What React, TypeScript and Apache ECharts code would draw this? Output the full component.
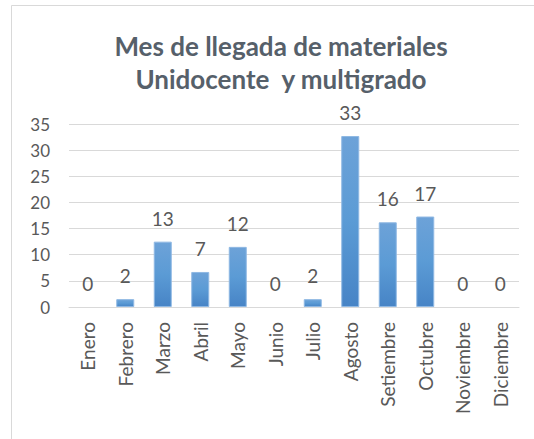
import React, { useEffect, useRef } from "react";
import * as echarts from "echarts";

const months = ["Enero", "Febrero", "Marzo", "Abril", "Mayo", "Junio", "Julio", "Agosto", "Setiembre", "Octubre", "Noviembre", "Diciembre"];
const values = [0, 1.5, 12.5, 6.7, 11.5, 0, 1.5, 32.7, 16.2, 17.3, 0, 0];
const titleLines = ["Mes de llegada de materiales", "Unidocente  y multigrado"];
const yTicks = { min: 0, max: 35, interval: 5 };

const FONT = "Lato, 'Noto Sans', sans-serif";
const GRAY = "#595959";

export default function App() {
  const ref = useRef<HTMLDivElement>(null);
  useEffect(() => {
    if (!ref.current) return;
    const chart = echarts.init(ref.current, undefined, { renderer: "svg" });
    chart.setOption({
      animation: false,
      backgroundColor: "#ffffff",
      textStyle: { fontFamily: FONT },
      title: {
        text: titleLines.join("\n"),
        left: 276,
        top: 24,
        textAlign: "center",
        textStyle: { fontFamily: FONT, fontSize: 26, fontWeight: "bold", color: "#56606a", lineHeight: 33 },
      },
      graphic: [
        {
          type: "rect",
          shape: { x: 11.5, y: 5.5, width: 700, height: 700 },
          style: { fill: "none", stroke: "#d9d9d9", lineWidth: 1 },
          silent: true,
        },
      ],
      grid: { left: 69, right: 15, top: 124, bottom: 132, containLabel: false },
      xAxis: {
        type: "category",
        data: months,
        axisLine: { show: true, lineStyle: { color: "#d9d9d9" } },
        axisTick: { show: false },
        axisLabel: { rotate: 90, margin: 15, fontSize: 19, color: GRAY, fontFamily: FONT, interval: 0 },
      },
      yAxis: {
        type: "value",
        min: yTicks.min,
        max: yTicks.max,
        interval: yTicks.interval,
        axisLine: { show: false },
        axisTick: { show: false },
        axisLabel: { margin: 19, fontSize: 17, color: GRAY, fontFamily: FONT },
        splitLine: { lineStyle: { color: "#d9d9d9", width: 1 } },
      },
      series: [
        {
          type: "bar",
          data: values.map((v) => ({ value: v, itemStyle: { borderWidth: v === 0 ? 0 : 1 } })),
          barWidth: 18,
          itemStyle: {
            color: new echarts.graphic.LinearGradient(0, 0, 0, 1, [
              { offset: 0, color: "#6da2d8" },
              { offset: 0.5, color: "#5b9bd5" },
              { offset: 1, color: "#4784c6" },
            ]),
            borderColor: "#8fb8e3",
            borderWidth: 1,
          },
          label: {
            show: true,
            position: "top",
            distance: 14,
            fontSize: 19,
            color: GRAY,
            fontFamily: FONT,
            formatter: (p: any) => String(Math.round(p.value)),
          },
        },
      ],
    });
    return () => chart.dispose();
  }, []);
  return <div ref={ref} style={{ position: "fixed", left: 0, top: 0, width: 534, height: 439 }} />;
}
